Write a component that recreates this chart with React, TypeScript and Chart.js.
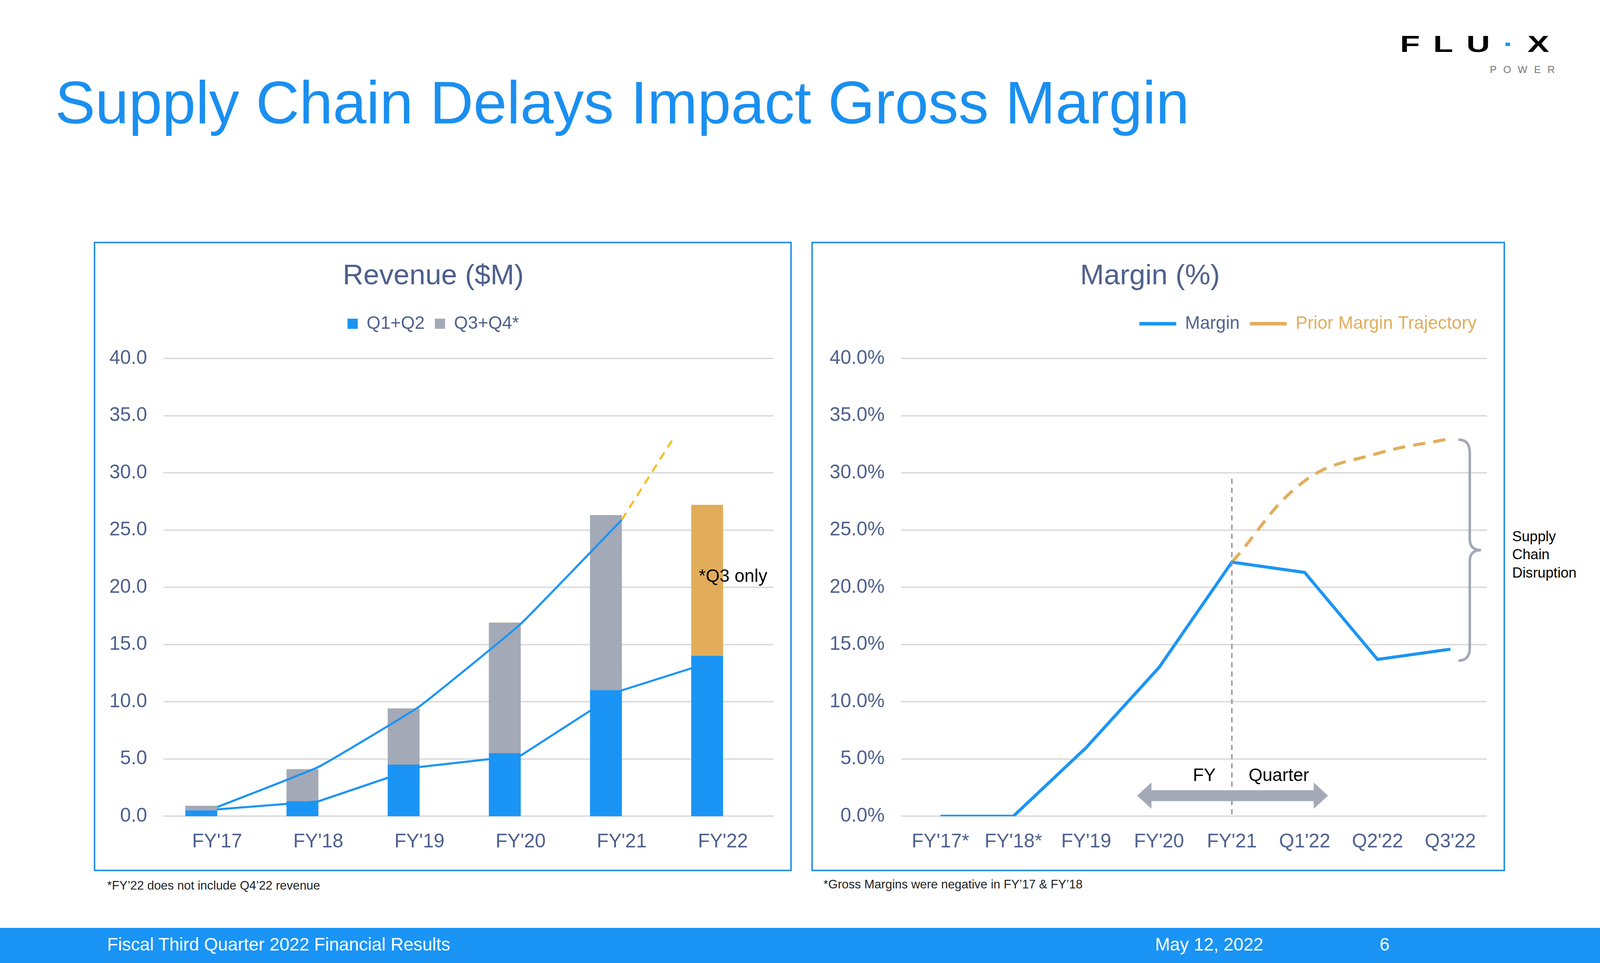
import React, { useEffect, useRef } from "react";
import { Chart, registerables } from "chart.js";
Chart.register(...registerables);

const SX = window.innerWidth / 1568;
const SY = window.innerHeight / 880;
const S = Math.min(SX, SY);
const FONT = "'Liberation Sans', Arial, sans-serif";

const revCategories = ["FY'17", "FY'18", "FY'19", "FY'20", "FY'21", "FY'22"];
const revH1 = [0.5, 1.3, 4.5, 5.5, 11.0, 14.0];
const revH2 = [0.4, 2.8, 4.9, 11.4, 15.3, 0];
const revQ3Only = [0, 0, 0, 0, 0, 13.2];
const revTotalTrend = [0.8, 4.3, 9.6, 16.8, 25.9];
const revH1Trend = [0.6, 1.3, 4.3, 5.3, 11.0, 13.8];
const revDashX = [4, 4.53];
const revDashY = [25.9, 33.3];

const marCategories = ["FY'17*", "FY'18*", "FY'19", "FY'20", "FY'21", "Q1'22", "Q2'22", "Q3'22"];
const marValues = [0, 0, 6.0, 13.0, 22.2, 21.3, 13.7, 14.6];
const marPrior = [null, null, null, null, 22.2, 29.3, 31.7, 33.0];

const BLUE = "#1a94f5";
const GRAY = "#a3a9b6";
const ORANGE = "#e2ad5a";
const SLATE = "#4d5f8c";
const GRID = "#d9d9d9";
const px = (v: number) => v * SX;
const py = (v: number) => v * SY;
const f = (v: number) => v * S;

function tickFont() {
  return { family: FONT, size: f(19) };
}

const legendGap = {
  id: "legendGap",
  beforeInit(chart: any) {
    const lg = chart.legend;
    const fit = lg.fit;
    lg.fit = function () {
      fit.bind(lg)();
      this.height += py(20);
    };
  },
};

const revAnnot = {
  id: "revAnnot",
  afterDatasetsDraw(chart: any) {
    const { ctx, scales } = chart;
    const x = scales.x2.getPixelForValue(5.1);
    const y = scales.y.getPixelForValue(20.9);
    ctx.save();
    ctx.fillStyle = "#000";
    ctx.font = `${f(17.5)}px ${FONT}`;
    ctx.textAlign = "center";
    ctx.textBaseline = "middle";
    ctx.fillText("*Q3 only", x, y);
    ctx.restore();
  },
};

const marAnnot = {
  id: "marAnnot",
  afterDatasetsDraw(chart: any) {
    const { ctx, scales } = chart;
    const xs = scales.x, ys = scales.y;
    const xfy = xs.getPixelForValue(4);
    ctx.save();
    ctx.strokeStyle = "#9a9a9a";
    ctx.lineWidth = f(1.5);
    ctx.setLineDash([f(5), f(4)]);
    ctx.beginPath();
    ctx.moveTo(xfy, ys.getPixelForValue(29.5));
    ctx.lineTo(xfy, ys.getPixelForValue(0));
    ctx.stroke();
    ctx.setLineDash([]);
    const ay = ys.getPixelForValue(1.8);
    const x1 = xs.getPixelForValue(2.7);
    const x2 = xs.getPixelForValue(5.32);
    const h = py(5), ah = py(12), al = px(14);
    ctx.fillStyle = GRAY;
    ctx.beginPath();
    ctx.moveTo(x1, ay);
    ctx.lineTo(x1 + al, ay - ah);
    ctx.lineTo(x1 + al, ay - h);
    ctx.lineTo(x2 - al, ay - h);
    ctx.lineTo(x2 - al, ay - ah);
    ctx.lineTo(x2, ay);
    ctx.lineTo(x2 - al, ay + ah);
    ctx.lineTo(x2 - al, ay + h);
    ctx.lineTo(x1 + al, ay + h);
    ctx.lineTo(x1 + al, ay + ah);
    ctx.closePath();
    ctx.fill();
    ctx.fillStyle = "#000";
    ctx.font = `${f(17.5)}px ${FONT}`;
    ctx.textBaseline = "middle";
    ctx.textAlign = "center";
    const ty = ys.getPixelForValue(3.5);
    ctx.fillText("FY", xfy - px(27), ty);
    ctx.fillText("Quarter", xfy + px(46), ty);
    const bx = xs.getPixelForValue(7) + px(8);
    const top = ys.getPixelForValue(32.9);
    const bot = ys.getPixelForValue(13.6);
    const mid = (top + bot) / 2;
    const w = px(11);
    ctx.strokeStyle = "#a3a9b6";
    ctx.lineWidth = f(2.5);
    ctx.beginPath();
    ctx.moveTo(bx, top);
    ctx.quadraticCurveTo(bx + w, top, bx + w, top + py(12));
    ctx.lineTo(bx + w, mid - py(10));
    ctx.quadraticCurveTo(bx + w, mid, bx + w * 2, mid);
    ctx.quadraticCurveTo(bx + w, mid, bx + w, mid + py(10));
    ctx.lineTo(bx + w, bot - py(12));
    ctx.quadraticCurveTo(bx + w, bot, bx, bot);
    ctx.stroke();
    ctx.restore();
  },
};

function RevenueChart() {
  const ref = useRef<HTMLCanvasElement>(null);
  useEffect(() => {
    const chart = new Chart(ref.current!, {
      type: "bar",
      data: {
        labels: revCategories,
        datasets: [
          { label: "Q1+Q2", data: revH1, backgroundColor: BLUE, stack: "s", barThickness: px(31), order: 2 },
          { label: "Q3+Q4*", data: revH2, backgroundColor: GRAY, stack: "s", barThickness: px(31), order: 2 },
          { label: "Q3", data: revQ3Only, backgroundColor: ORANGE, stack: "s", barThickness: px(31), order: 2 },
          {
            type: "line", label: "t1", xAxisID: "x2", yAxisID: "y2", order: 1,
            data: revTotalTrend.map((v, i) => ({ x: i, y: v })),
            borderColor: BLUE, borderWidth: f(2), pointRadius: 0, tension: 0.1,
          } as any,
          {
            type: "line", label: "t2", xAxisID: "x2", yAxisID: "y2", order: 1,
            data: revH1Trend.map((v, i) => ({ x: i, y: v })),
            borderColor: BLUE, borderWidth: f(2), pointRadius: 0,
          } as any,
          {
            type: "line", label: "t3", xAxisID: "x2", yAxisID: "y2", order: 1,
            data: revDashX.map((x, i) => ({ x, y: revDashY[i] })),
            borderColor: "#f5bd1f", borderWidth: f(2), borderDash: [f(8), f(6)], pointRadius: 0,
          } as any,
        ],
      },
      options: {
        animation: false, responsive: false,
        layout: { padding: { left: px(-3), right: px(16), top: py(4), bottom: py(4) } },
        plugins: {
          title: { display: true, text: "Revenue ($M)", color: SLATE, font: { family: FONT, size: f(28), weight: "normal" }, padding: { top: py(10), bottom: py(10) } },
          legend: {
            labels: {
              color: SLATE, font: { family: FONT, size: f(17.5) }, boxWidth: f(10), boxHeight: f(10), padding: px(10),
              filter: (it: any) => it.text === "Q1+Q2" || it.text === "Q3+Q4*",
            },
          },
          tooltip: { enabled: false },
        },
        scales: {
          x: { stacked: true, grid: { display: false }, border: { display: false }, ticks: { color: SLATE, font: tickFont(), padding: py(10) } },
          x2: { type: "linear", min: -0.5, max: 5.5, display: false, offset: false, bounds: "ticks" },
          y2: { type: "linear", min: 0, max: 40, display: false },
          y: {
            stacked: true, min: 0, max: 40,
            ticks: { stepSize: 5, color: SLATE, font: tickFont(), padding: px(16), callback: (v: any) => Number(v).toFixed(1) },
            grid: { color: GRID, lineWidth: f(1.3) }, border: { display: false },
          },
        },
      },
      plugins: [legendGap, revAnnot],
    });
    return () => chart.destroy();
  }, []);
  return <canvas ref={ref} style={{ width: px(680), height: py(571), display: "block" }} />;
}

function MarginChart() {
  const ref = useRef<HTMLCanvasElement>(null);
  useEffect(() => {
    const chart = new Chart(ref.current!, {
      type: "line",
      data: {
        labels: marCategories,
        datasets: [
          { label: "Margin", data: marValues, borderColor: BLUE, backgroundColor: BLUE, borderWidth: f(3), pointRadius: 0 },
          { label: "Prior Margin Trajectory", data: marPrior as any, borderColor: ORANGE, backgroundColor: ORANGE, borderWidth: f(3), borderDash: [f(12), f(8)], pointRadius: 0, tension: 0.4 },
        ],
      },
      options: {
        animation: false, responsive: false,
        layout: { padding: { left: px(0), right: px(16), top: py(4), bottom: py(4) } },
        plugins: {
          title: { display: true, text: "Margin (%)", color: SLATE, font: { family: FONT, size: f(28), weight: "normal" }, padding: { top: py(10), bottom: py(10) } },
          legend: {
            align: "end",
            labels: {
              font: { family: FONT, size: f(17.5) }, boxWidth: px(36), boxHeight: 0, padding: px(10),
              generateLabels: (c: any) => c.data.datasets.map((d: any, i: number) => ({
                text: d.label, fillStyle: d.borderColor, strokeStyle: d.borderColor, lineWidth: f(3.5),
                lineDash: i === 1 ? [f(8), f(6)] : [], fontColor: i === 0 ? SLATE : ORANGE, datasetIndex: i, hidden: false,
              })),
            },
          },
          tooltip: { enabled: false },
        },
        scales: {
          x: { grid: { display: false }, border: { display: false }, offset: true, ticks: { color: SLATE, font: tickFont(), padding: py(10) } },
          y: {
            min: 0, max: 40,
            ticks: { stepSize: 5, color: SLATE, font: tickFont(), padding: px(16), callback: (v: any) => Number(v).toFixed(1) + "%" },
            grid: { color: GRID, lineWidth: f(1.3) }, border: { display: false },
          },
        },
      },
      plugins: [legendGap, marAnnot],
    });
    return () => chart.destroy();
  }, []);
  return <canvas ref={ref} style={{ width: px(676), height: py(571), display: "block" }} />;
}

export default function App() {
  const abs = (l: number, t: number, extra: any = {}) => ({ position: "absolute" as const, left: px(l), top: py(t), ...extra });
  return (
    <div style={{ position: "fixed", left: 0, top: 0, width: px(1568), height: py(880), background: "#fff", fontFamily: FONT, overflow: "hidden" }}>
      <div style={abs(54, 62, { fontSize: f(59), color: "#1a8ff0", whiteSpace: "nowrap", lineHeight: 1.15 })}>Supply Chain Delays Impact Gross Margin</div>
      <div style={abs(1372, 30, { fontSize: f(32), fontWeight: 700, color: "#000", letterSpacing: px(13), lineHeight: 1, whiteSpace: "nowrap", transform: "scaleY(0.7)", transformOrigin: "left top" })}>FLU<span style={{ color: "#1a9be0" }}>·</span>X</div>
      <div style={abs(1460, 58, { fontSize: f(10), color: "#777", letterSpacing: px(6.5), whiteSpace: "nowrap" })}>POWER</div>
      <div style={abs(92, 221, { width: px(684), height: py(575), border: `${f(1.6)}px solid #2a90e6`, boxSizing: "border-box" })} />
      <div style={abs(795, 221, { width: px(680), height: py(575), border: `${f(1.6)}px solid #2a90e6`, boxSizing: "border-box" })} />
      <div style={abs(94, 223)}><RevenueChart /></div>
      <div style={abs(797, 223)}><MarginChart /></div>
      <div style={abs(1482, 482, { fontSize: f(14), color: "#000", lineHeight: 1.27 })}>Supply<br />Chain<br />Disruption</div>
      <div style={abs(105, 803, { fontSize: f(12), color: "#222", whiteSpace: "nowrap" })}>*FY’22 does not include Q4’22 revenue</div>
      <div style={abs(807, 802, { fontSize: f(12), color: "#222", whiteSpace: "nowrap" })}>*Gross Margins were negative in FY’17 &amp; FY’18</div>
      <div style={abs(0, 848, { width: px(1568), height: py(33), background: BLUE })} />
      <div style={abs(105, 854, { fontSize: f(17.5), color: "#fff", whiteSpace: "nowrap" })}>Fiscal Third Quarter 2022 Financial Results</div>
      <div style={abs(1132, 854, { fontSize: f(17.5), color: "#fff", whiteSpace: "nowrap" })}>May 12, 2022</div>
      <div style={abs(1352, 854, { fontSize: f(17.5), color: "#fff" })}>6</div>
    </div>
  );
}
